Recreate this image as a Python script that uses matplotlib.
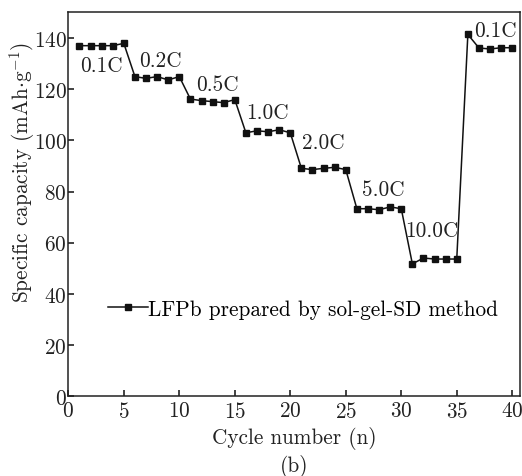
import numpy as np
import matplotlib
matplotlib.use("Agg")
import matplotlib.pyplot as plt

plt.rcParams['font.family'] = 'serif'
plt.rcParams['font.serif'] = ['cmr10']
plt.rcParams['mathtext.fontset'] = 'cm'
plt.rcParams['axes.formatter.use_mathtext'] = True

cycles = list(range(1, 41))
capacity = [137.1, 137.1, 137.1, 137.1, 138.0,
            125.0, 124.3, 125.0, 123.7, 125.0,
            116.2, 115.6, 115.2, 114.8, 116.0,
            103.0, 103.8, 103.4, 104.2, 103.0,
            89.1, 88.6, 89.1, 89.5, 88.6,
            73.3, 73.3, 72.9, 74.0, 73.3,
            51.7, 54.0, 53.6, 53.6, 53.6,
            141.5, 136.2, 135.8, 136.3, 136.3]

rate_labels = ['0.1C', '0.2C', '0.5C', '1.0C', '2.0C', '5.0C', '10.0C', '0.1C']
label_x = [3.0, 8.3, 13.4, 17.9, 23.0, 28.4, 32.8, 38.5]
label_y = [129.3, 131.4, 122.0, 111.0, 99.5, 81.0, 64.7, 143.0]

fs = 15.3
fig = plt.figure(figsize=(5.22, 4.77), dpi=100)
ax = fig.add_axes([0.1309, 0.1677, 0.8653, 0.8057])

ax.plot(cycles, capacity, color='#111111', lw=1.1, marker='s', ms=4.6,
        label='LFPb prepared by sol-gel-SD method')

for t, x, y in zip(rate_labels, label_x, label_y):
    ax.text(x, y, t, ha='center', va='center', fontsize=fs, color='#222222')

ax.set_xlim(0, 40.7)
ax.set_ylim(0, 150.4)
ax.set_xticks(range(0, 41, 5))
ax.set_yticks(range(0, 141, 20))
ax.tick_params(direction='in', length=4, width=1.2, labelsize=fs,
               top=False, right=False, pad=1, colors='#222222')
ax.tick_params(axis='x', pad=3.5)
for s in ax.spines.values():
    s.set_linewidth(1.1)
    s.set_color('#222222')

ax.set_xlabel('Cycle number (n)', fontsize=fs, color='#222222')
ax.set_ylabel(r'Specific capacity (mAh$\cdot$g$^{-1}$)', fontsize=fs,
              color='#222222')
ax.xaxis.set_label_coords(0.5, -0.109)
ax.yaxis.set_label_coords(-0.1025, 0.585)
ax.xaxis.label.set_va('center')
ax.yaxis.label.set_va('center')
fig.text(0.5 * (0.1309 + 0.9962), 1 - 467 / 477, '(b)', ha='center',
         va='center', fontsize=fs, color='#222222')

ax.legend(loc='center left', bbox_to_anchor=(0.087, 0.226), frameon=False,
          fontsize=fs, handlelength=1.9, handletextpad=0.0,
          borderaxespad=0, borderpad=0)

fig.savefig('out.png', dpi=100)
